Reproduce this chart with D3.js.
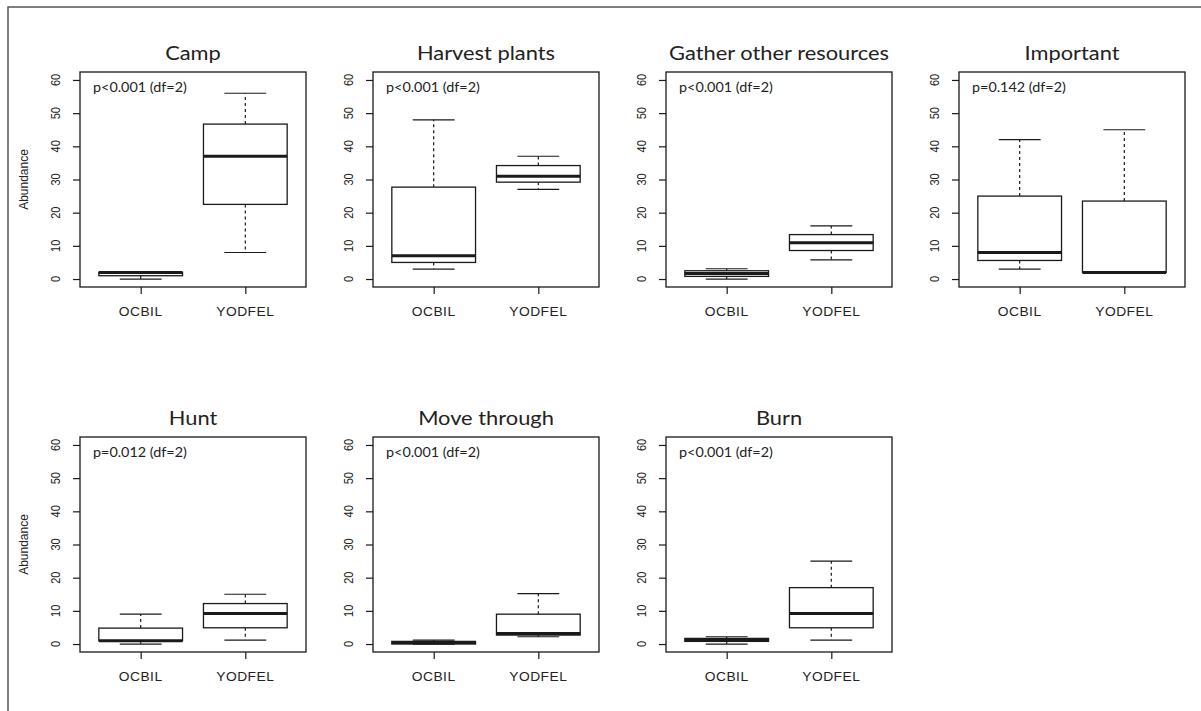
<!DOCTYPE html>
<html>
<head>
<meta charset="utf-8">
<script src="https://cdn.jsdelivr.net/npm/d3@7"></script>
<style>
  body { margin: 0; background: white; }
  svg { display: block; }
  .title { font-family: Lato, "Open Sans", sans-serif; font-size: 19px; fill: #222; }
  .plab { font-family: Lato, "Open Sans", sans-serif; font-size: 12.5px; fill: #222; }
  .tick { font-family: "Liberation Sans", Arial, sans-serif; font-size: 11px; fill: #222; }
  .xlab { font-family: "Liberation Sans", Arial, sans-serif; font-size: 12px; fill: #222; letter-spacing: 0.4px; }
  .ylab { font-family: "Liberation Sans", Arial, sans-serif; font-size: 12px; fill: #222; }
</style>
</head>
<body>
<svg id="chart" width="1201" height="711"></svg>
<script>
// panel titles and test labels
var panels = ["Camp", "Harvest plants", "Gather other resources", "Important", "Hunt", "Move through", "Burn"];
var pLabels = ["p<0.001 (df=2)", "p<0.001 (df=2)", "p<0.001 (df=2)", "p=0.142 (df=2)",
	"p=0.012 (df=2)", "p<0.001 (df=2)", "p<0.001 (df=2)"];
var groups = ["OCBIL", "YODFEL"];
var yTicks = [0, 10, 20, 30, 40, 50, 60];

// [min, q1, median, q3, max] per panel
var ocbil = [
	[0, 1, 2, 2, 2],
	[3, 5, 7, 27.7, 48],
	[0, 0.8, 1.7, 2.5, 3.1],
	[3, 5.6, 8, 25, 42],
	[0, 1, 1, 4.8, 9],
	[0, 0, 0.5, 0.8, 1.2],
	[0, 0.8, 1.2, 1.7, 2.2]
];
var yodfel = [
	[8, 22.5, 37, 46.7, 56],
	[27, 29.2, 31, 34.2, 37],
	[5.8, 8.6, 10.9, 13.4, 16],
	[2, 2, 2, 23.5, 45],
	[1.2, 4.9, 9.2, 12.2, 15],
	[2.2, 2.7, 3.2, 9, 15.2],
	[1.2, 4.9, 9.2, 17, 25]
];

var svg = d3.select("#chart"),
	plotW = 226,
	plotH = 215,
	colStep = 293,
	rowTop = [72, 437],
	sx = 1.15, // the picture is a bit wider than tall
	ink = "#1a1a1a";

// outer frame (top and left only)
svg.append("path")
	.attr("d", "M8,711V7H1201")
	.attr("fill", "none")
	.attr("stroke", "#555")
	.attr("stroke-width", 1.5);

function stretchText(g, x, y, str, cls, anchor, rot) {
	var t = g.append("g")
		.attr("transform", "translate(" + x + "," + y + ") scale(" + sx + ",1)" + (rot ? " rotate(-90)" : ""))
		.append("text")
		.attr("class", cls)
		.attr("text-anchor", anchor)
		.text(str);
	return t;
}

panels.forEach(function (name, i) {
	var row = i < 4 ? 0 : 1,
		col = i < 4 ? i : i - 4,
		left = 80 + col * colStep,
		top = rowTop[row];

	var g = svg.append("g").attr("transform", "translate(" + left + "," + top + ")");

	// R pads the axis range by 4%
	var y = d3.scaleLinear().domain([-2.4, 62.4]).range([plotH, 0]);
	var x = d3.scaleLinear().domain([0.42, 2.58]).range([0, plotW]);

	// frame
	g.append("rect")
		.attr("width", plotW).attr("height", plotH)
		.attr("fill", "none").attr("stroke", ink).attr("stroke-width", 1.3);

	// y axis ticks
	var yAxis = d3.axisLeft(y).tickValues(yTicks).tickSize(7).tickFormat("");
	var ya = g.append("g").call(yAxis);
	ya.select(".domain").remove();
	ya.selectAll("line").attr("stroke", ink).attr("stroke-width", 1.2);
	yTicks.forEach(function (v) {
		stretchText(g, -20.5, y(v), v, "tick", "middle", true);
	});

	// x axis ticks
	var xAxis = d3.axisBottom(x).tickValues([1, 2]).tickSize(7).tickFormat("");
	var xa = g.append("g").attr("transform", "translate(0," + plotH + ")").call(xAxis);
	xa.select(".domain").remove();
	xa.selectAll("line").attr("stroke", ink).attr("stroke-width", 1.2);
	groups.forEach(function (lab, k) {
		stretchText(g, x(k + 1), plotH + 28.5, lab, "xlab", "middle", false);
	});

	// title and p value
	stretchText(g, plotW / 2, -12, name, "title", "middle", false);
	stretchText(g, 13, 20, pLabels[i], "plab", "start", false);

	if (col === 0) {
		g.append("text")
			.attr("class", "ylab")
			.attr("text-anchor", "middle")
			.attr("transform", "translate(-52," + plotH / 2 + ") rotate(-90)")
			.text("Abundance");
	}

	// boxes
	[ocbil[i], yodfel[i]].forEach(function (s, k) {
		var cx = x(k + 1),
			hw = x(1.4) - x(1),
			cap = x(1.2) - x(1);
		var b = g.append("g");
		// whiskers
		[[s[1], s[0]], [s[3], s[4]]].forEach(function (w) {
			if (w[0] === w[1]) return;
			b.append("line")
				.attr("x1", cx).attr("x2", cx)
				.attr("y1", y(w[0])).attr("y2", y(w[1]))
				.attr("stroke", ink).attr("stroke-width", 1.2)
				.attr("stroke-dasharray", "3,3");
		});
		[s[0], s[4]].forEach(function (v) {
			b.append("line")
				.attr("x1", cx - cap).attr("x2", cx + cap)
				.attr("y1", y(v)).attr("y2", y(v))
				.attr("stroke", ink).attr("stroke-width", 1.2);
		});
		b.append("rect")
			.attr("x", cx - hw).attr("width", hw * 2)
			.attr("y", y(s[3])).attr("height", y(s[1]) - y(s[3]))
			.attr("fill", "white").attr("stroke", ink).attr("stroke-width", 1.3);
		b.append("line")
			.attr("x1", cx - hw).attr("x2", cx + hw)
			.attr("y1", y(s[2])).attr("y2", y(s[2]))
			.attr("stroke", ink).attr("stroke-width", 3);
	});
});
</script>
</body>
</html>
